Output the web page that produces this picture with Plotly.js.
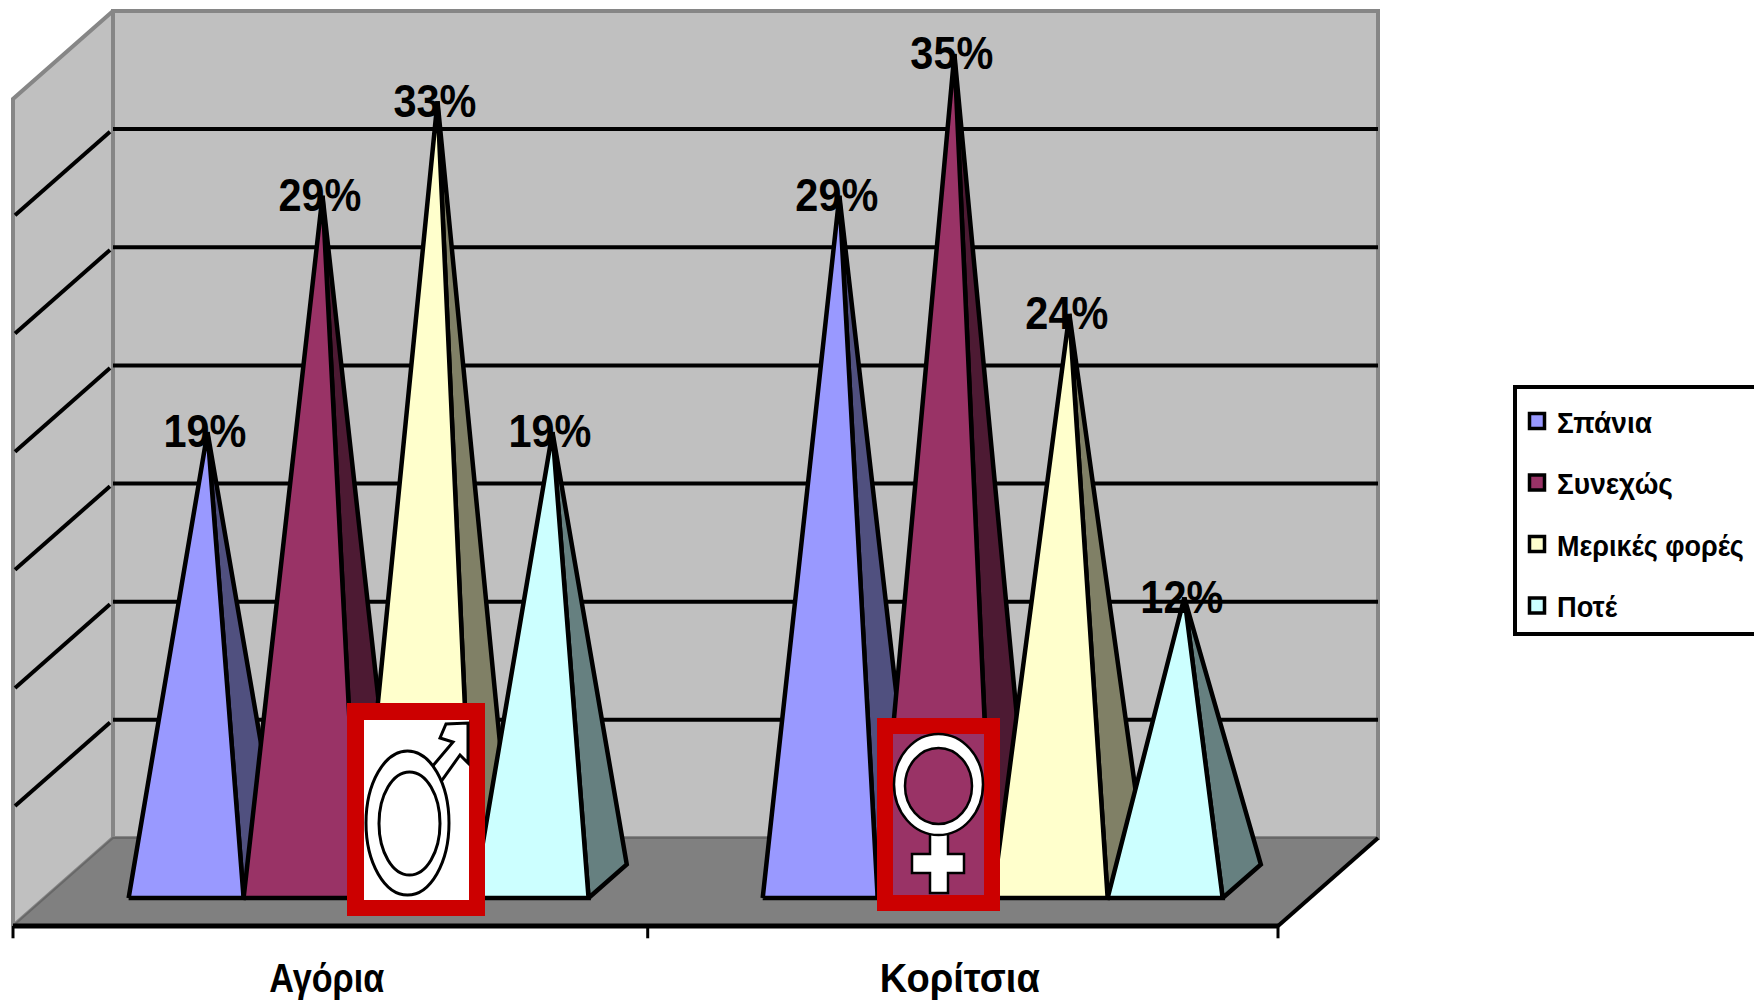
<!DOCTYPE html>
<html><head><meta charset="utf-8">
<script src="https://cdn.plot.ly/plotly-3.0.0.min.js"></script>
<style>html,body{margin:0;padding:0;background:#fff;overflow:hidden}</style>
</head><body><div id="chart" style="width:1754px;height:1002px"></div>
<script>
// ---- data ----
const categories = ["Αγόρια", "Κορίτσια"];
const seriesNames = ["Σπάνια", "Συνεχώς", "Μερικές φορές", "Ποτέ"];
const spania = [19, 29];
const synechos = [29, 35];
const merikes = [33, 24];
const pote = [19, 12];
const gridValues = [5, 10, 15, 20, 25, 30];
const maxValue = 35;

// ---- style ----
const W = 1754, H = 1002;
const PX_CAT = 632.5, PX_VAL = 23.63, X0 = 13, Y0 = 926;
const DX = 100 / PX_CAT, DY = 88 / PX_VAL;
const frontColors = ["#9999FF", "#993366", "#FFFFCC", "#CCFFFF"];
const sideColors = ["#50507F", "#4D1A33", "#808066", "#668080"];
const SANS = "'Liberation Sans',Arial,sans-serif";
const allSeries = [spania, synechos, merikes, pote];

const traces = [];
const px = (c, v, d) => [c + d * DX, v + d * DY];
function poly(pts, fill, lineColor, lineW, closed) {
  const xs = [], ys = [];
  pts.forEach(p => { const q = px(p[0], p[1], p[2]); xs.push(q[0]); ys.push(q[1]); });
  traces.push({
    x: xs, y: ys, type: "scatter", mode: "lines", showlegend: false, hoverinfo: "skip",
    fill: closed ? "toself" : "none", fillcolor: fill,
    line: { color: lineColor, width: lineW, simplify: false }
  });
}

// walls and floor
poly([[0,0,0],[0,0,1],[0,maxValue,1],[0,maxValue,0],[0,0,0]], "#C0C0C0", "#868686", 4, true);
poly([[0,0,1],[2,0,1],[2,maxValue,1],[0,maxValue,1],[0,0,1]], "#C0C0C0", "#868686", 4, true);
poly([[0,0,0],[2,0,0],[2,0,1],[0,0,1],[0,0,0]], "#808080", "#686868", 2, true);

// gridlines
gridValues.forEach(v => {
  poly([[0,v,0.02],[0,v,0.97]], null, "#000", 4, false);
  poly([[0,v,1],[2,v,1]], null, "#000", 4, false);
});

// floor front edge, right edge, ticks
poly([[0,0,0],[2,0,0]], null, "#000", 5, false);
poly([[2,0,0],[2,0,1]], null, "#000", 4, false);
[0, 1.0035, 2].forEach(c => poly([[c,0,0],[c,-0.52,0]], null, "#000", 3, false));

// pyramids
const START = 0.1325, BW = 0.1818, D_F = 0.318, D_B = 0.70, D_M = 0.51;
const baseShift = [0, 0.0025], apexShift = [0.0035, 0];
categories.forEach((cat, ci) => {
  allSeries.forEach((vals, si) => {
    const a = ci + START + baseShift[ci] + si * BW, b = a + BW, m = a + BW / 2 + apexShift[ci], v = vals[ci];
    poly([[b,0,D_F],[b,0,D_B],[m,v,D_M],[b,0,D_F]], sideColors[si], "#000", 4.5, true);
    poly([[a,0,D_F],[b,0,D_F],[m,v,D_M],[a,0,D_F]], frontColors[si], "#000", 4.5, true);
  });
});

// data labels
allSeries.forEach((vals, si) => {
  const pts = vals.map((v, ci) => px(ci + START + baseShift[ci] + si * BW + BW / 2 + apexShift[ci] - 0.004, v - 0.15, D_M));
  traces.push({
    x: pts.map(p => p[0]), y: pts.map(p => p[1]), type: "scatter", mode: "text",
    text: vals.map(v => v + "%"), textposition: "middle center", showlegend: false, hoverinfo: "skip",
    textfont: { family: SANS, size: 47, color: "#000", weight: 700 }
  });
});

// category labels
traces.push({
  x: [0.496, 1.497], y: [-2.35, -2.35], type: "scatter", mode: "text", text: categories, textposition: "middle center",
  showlegend: false, hoverinfo: "skip", textfont: { family: SANS, size: 40, color: "#000", weight: 700 }
});

// legend entries
seriesNames.forEach((name, si) => traces.push({
  x: [null], y: [null], type: "scatter", mode: "markers", name: name, legendgroup: name, hoverinfo: "skip",
  marker: { symbol: "square", size: 15, color: frontColors[si], line: { color: "#000", width: 3.5 } }
}));

// decorative gender symbols in the picture, positioned in page pixels
const fx = p => p / W, fy = p => 1 - p / H;
const P = pts => "M" + pts.map(p => fx(p[0]) + "," + fy(p[1])).join("L") + "Z";
const shape = o => Object.assign({ xref: "paper", yref: "paper", layer: "above" }, o);
const rect = (x0, y0, x1, y1, fill) => shape({ type: "rect", x0: fx(x0), x1: fx(x1), y0: fy(y0), y1: fy(y1), fillcolor: fill, line: { width: 0 } });
const ell = (x0, y0, x1, y1, fill, w) => shape({ type: "circle", x0: fx(x0), x1: fx(x1), y0: fy(y0), y1: fy(y1), fillcolor: fill, line: { color: "#000", width: w } });
const shapes = [
  rect(347, 703, 485, 916, "#CC0000"), rect(364, 720, 469, 900, "#FFFFFF"),
  shape({ type: "path", path: P([[431,768],[453,742],[440,738],[446,724],[468,723],[468,763],[460,755],[440,783]]), fillcolor: "#fff", line: { color: "#000", width: 3 } }),
  ell(366, 751, 449, 895, "#fff", 3), ell(379, 772, 440, 875, "#fff", 3),
  rect(877, 718, 1000, 911, "#CC0000"), rect(893, 734, 984, 895, "#993366"),
  shape({ type: "path", path: P([[930,830],[948,830],[948,854],[964,854],[964,873],[948,873],[948,893],[930,893],[930,873],[912,873],[912,854],[930,854]]), fillcolor: "#fff", line: { color: "#000", width: 2.5 } }),
  ell(894, 734, 983, 835, "#fff", 2.5), ell(905, 748, 972, 824, "#993366", 2.5)
];

const layout = {
  width: W, height: H, margin: { l: 0, r: 0, t: 0, b: 0, pad: 0, autoexpand: false },
  paper_bgcolor: "#fff", plot_bgcolor: "#fff",
  xaxis: { visible: false, range: [-X0 / PX_CAT, (W - X0) / PX_CAT], fixedrange: true },
  yaxis: { visible: false, range: [(Y0 - H) / PX_VAL, Y0 / PX_VAL], fixedrange: true },
  showlegend: true,
  legend: {
    x: 1513 / W, xanchor: "left", y: 1 - 385 / H, yanchor: "top",
    bgcolor: "#fff", bordercolor: "#000", borderwidth: 4, tracegroupgap: 19.5, traceorder: "grouped",
    itemwidth: 30, font: { family: SANS, size: 30, color: "#000", weight: 700 }
  },
  shapes: shapes
};

// The reference's type is a narrow bold face; squeeze the drawn text to its measured widths.
const textWidths = { "Αγόρια": 115, "Κορίτσια": 160, "Σπάνια": 95, "Συνεχώς": 116, "Μερικές φορές": 187, "Ποτέ": 60 };
Plotly.newPlot("chart", traces, layout, { displayModeBar: false, staticPlot: true }).then(gd => {
  gd.querySelectorAll("text").forEach(t => {
    const s = t.textContent;
    const w = /%$/.test(s) ? 83 : textWidths[s];
    if (!w) return;
    const x = parseFloat(t.getAttribute("x")) || 0;
    const k = w / t.getComputedTextLength();
    const prev = t.getAttribute("transform") || "";
    t.setAttribute("transform", prev + " translate(" + x + ",0) scale(" + k + ",1) translate(" + (-x) + ",0)");
  });
  // legend: centre the entries in a box of the reference's height, and let the box pass the page edge
  const bg = gd.querySelector(".legend rect.bg");
  if (bg) bg.setAttribute("height", 247);
  const clip = gd.querySelector(".legend .scrollbox");
  if (clip) {
    clip.removeAttribute("clip-path");
    clip.style.clipPath = "none";
    clip.setAttribute("transform", "translate(0,6)");
  }
});
</script></body></html>
